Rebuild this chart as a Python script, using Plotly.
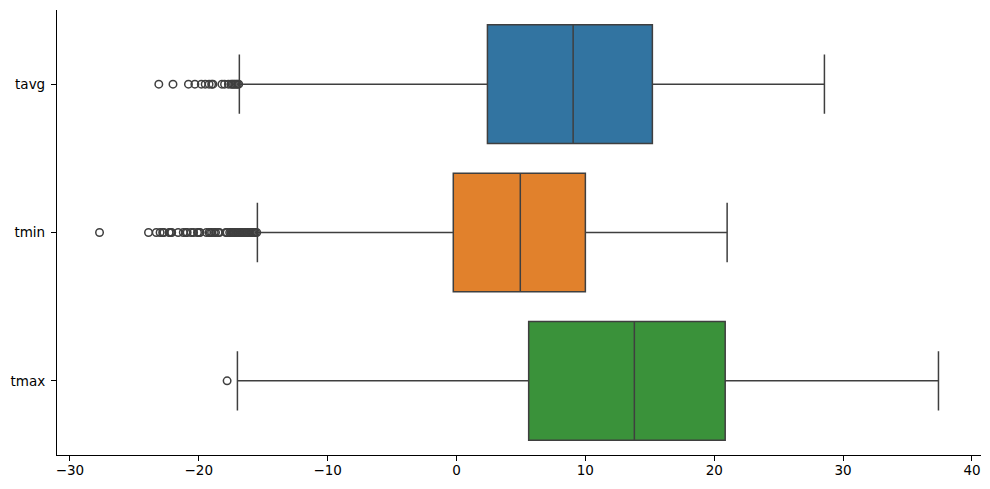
import plotly.graph_objects as go

categories = ["tavg", "tmin", "tmax"]
colors = ["#3274a1", "#e1812c", "#3a923a"]

q1 = [2.4, -0.25, 5.6]
median = [9.05, 4.95, 13.8]
q3 = [15.2, 10.0, 20.85]
lower = [-16.85, -15.45, -17.0]
upper = [28.55, 21.0, 37.4]

outliers_tavg = [
    -23.1, -22.0, -20.8, -20.3, -19.8, -19.5, -19.2, -19.0, -18.9, -18.2, -18.0,
    -17.7, -17.5, -17.4, -17.3, -17.2, -17.1, -17.0, -16.9,
]
outliers_tmin = [
    -27.7, -23.9, -23.3, -23.0, -22.8, -22.7, -22.3, -22.2, -22.1, -21.6, -21.2,
    -21.0, -20.9, -20.6, -20.4, -20.1, -20.0, -19.9, -19.4, -19.2, -19.1, -19.0,
    -18.8, -18.7, -18.5, -18.4, -17.9, -17.8, -17.6, -17.5, -17.4, -17.3, -17.2,
    -17.1, -17.0, -16.9, -16.8, -16.7, -16.6, -16.5, -16.4, -16.3, -16.2, -16.1,
    -16.0, -15.9, -15.8, -15.7, -15.6, -15.5,
]
outliers_tmax = [-17.8]
outliers = [outliers_tavg, outliers_tmin, outliers_tmax]

edge = "#3f3f3f"

fig = go.Figure()
for i, name in enumerate(categories):
    fig.add_trace(
        go.Box(
            y=[name],
            q1=[q1[i]],
            median=[median[i]],
            q3=[q3[i]],
            lowerfence=[lower[i]],
            upperfence=[upper[i]],
            orientation="h",
            width=0.8,
            whiskerwidth=0.5,
            fillcolor=colors[i],
            line=dict(color=edge, width=1.5),
            boxpoints=False,
            showlegend=False,
        )
    )
    fig.add_trace(
        go.Scatter(
            x=outliers[i],
            y=[name] * len(outliers[i]),
            mode="markers",
            marker=dict(
                symbol="circle-open",
                size=7.5,
                color=edge,
                line=dict(color=edge, width=1.5),
            ),
            showlegend=False,
        )
    )

fig.update_layout(
    width=990,
    height=489,
    margin=dict(l=57, r=9, t=10, b=34),
    paper_bgcolor="white",
    plot_bgcolor="white",
    font=dict(family="DejaVu Sans", size=13.5, color="black"),
    boxmode="overlay",
)
fig.update_xaxes(
    range=[-31.0, 40.7],
    tickvals=[-30, -20, -10, 0, 10, 20, 30, 40],
    showgrid=False,
    zeroline=False,
    showline=True,
    linecolor="black",
    linewidth=1.2,
    ticks="outside",
    ticklen=5,
    tickwidth=1.1,
    tickcolor="black",
    ticklabelstandoff=-2,
)
fig.update_yaxes(
    type="category",
    categoryorder="array",
    categoryarray=categories,
    range=[2.5, -0.5],
    showgrid=False,
    zeroline=False,
    showline=True,
    linecolor="black",
    linewidth=1.2,
    ticks="outside",
    ticklen=5,
    tickwidth=1.1,
    tickcolor="black",
    ticklabelstandoff=3,
)

# page margin would push the fixed-size figure off the window
fig.write_html(
    "out.html",
    config={"displayModeBar": False},
    post_script="document.body.style.margin = '0';",
)
